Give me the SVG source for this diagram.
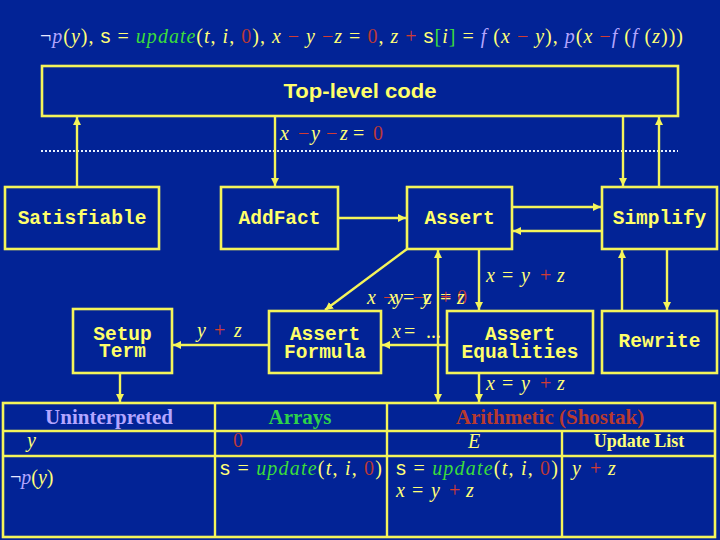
<svg xmlns="http://www.w3.org/2000/svg" width="720" height="540" viewBox="0 0 720 540">
<defs>
<style>
.box{fill:none;stroke:#f4f45a;stroke-width:2.6}
.ln{stroke:#f4f45a;stroke-width:2.4;fill:none}
.mono{font-family:"Liberation Mono","Courier New",monospace;font-weight:bold;font-size:19.5px;fill:#ffff6a;text-anchor:middle}
.m{font-family:"Liberation Serif","Times New Roman",serif;font-size:20px;fill:#ffff78}
.i{font-style:italic}
.r{fill:#d23c34}
.z0{fill:#b83838}
.g{fill:#3bdc3b}
.p{fill:#b3a6ff}
.w{fill:#e8e8ff}
.s{font-family:"Liberation Sans",Arial,sans-serif}
.hd{font-family:"Liberation Serif","Times New Roman",serif;font-weight:bold;font-size:21px;text-anchor:middle}
</style>
<marker id="ah" viewBox="0 0 10 10" refX="10" refY="5" markerWidth="8" markerHeight="8" markerUnits="userSpaceOnUse" orient="auto-start-reverse">
<path d="M0,0 L10,5 L0,10 z" fill="#f4f45a"/>
</marker>
</defs>
<rect width="720" height="540" fill="#022396"/>

<text class="m" x="40" y="43" textLength="643" lengthAdjust="spacing"><tspan class="w">¬</tspan><tspan class="p i">p</tspan>(<tspan class="i">y</tspan>), <tspan class="s">s</tspan> = <tspan class="g i">update</tspan>(<tspan class="i">t</tspan>, <tspan class="i">i</tspan>, <tspan class="z0">0</tspan>), <tspan class="i">x</tspan> <tspan class="r">−</tspan> <tspan class="i">y</tspan> <tspan class="r">−</tspan><tspan class="i">z</tspan> = <tspan class="z0">0</tspan>, <tspan class="i">z</tspan> <tspan class="r">+</tspan> <tspan class="s">s</tspan><tspan class="g">[</tspan><tspan class="i">i</tspan><tspan class="g">]</tspan> = <tspan class="p i">f</tspan> (<tspan class="i">x</tspan> <tspan class="r">−</tspan> <tspan class="i">y</tspan>), <tspan class="p i">p</tspan>(<tspan class="i">x</tspan> <tspan class="r">−</tspan><tspan class="p i">f</tspan> (<tspan class="p i">f</tspan> (<tspan class="i">z</tspan>)))</text>

<g id="top">
<rect class="box" x="42" y="66" width="636" height="50"/>
<text x="360" y="98" text-anchor="middle" font-family="Liberation Sans,Arial,sans-serif" font-weight="bold" font-size="20" fill="#ffff6a" textLength="153" lengthAdjust="spacingAndGlyphs">Top-level code</text>
</g>

<g id="sep">
<line x1="41" y1="151" x2="678" y2="151" stroke="#e6f0ff" stroke-width="2" stroke-dasharray="2,2"/>
<text class="m"><tspan class="i" x="280" y="140">x</tspan><tspan class="r" x="298">−</tspan><tspan class="i" x="311">y</tspan><tspan class="r" x="326">−</tspan><tspan class="i" x="340">z</tspan><tspan x="353">=</tspan><tspan class="z0" x="373">0</tspan></text>
</g>

<g id="connectors">
<line class="ln" x1="77" y1="187" x2="77" y2="117" marker-end="url(#ah)"/>
<line class="ln" x1="275" y1="116" x2="275" y2="186" marker-end="url(#ah)"/>
<line class="ln" x1="623" y1="116" x2="623" y2="186" marker-end="url(#ah)"/>
<line class="ln" x1="659" y1="187" x2="659" y2="117" marker-end="url(#ah)"/>
<line class="ln" x1="338" y1="218" x2="406" y2="218" marker-end="url(#ah)"/>
<line class="ln" x1="512" y1="207" x2="601" y2="207" marker-end="url(#ah)"/>
<line class="ln" x1="602" y1="231" x2="513" y2="231" marker-end="url(#ah)"/>
<line class="ln" x1="407" y1="249" x2="325" y2="310" marker-end="url(#ah)"/>
<line class="ln" x1="438" y1="402" x2="438" y2="250" marker-start="url(#ah)" marker-end="url(#ah)"/>
<line class="ln" x1="479" y1="249" x2="479" y2="310" marker-end="url(#ah)"/>
<line class="ln" x1="447" y1="345" x2="382" y2="345" marker-end="url(#ah)"/>
<line class="ln" x1="269" y1="345" x2="173" y2="345" marker-end="url(#ah)"/>
<line class="ln" x1="120" y1="373" x2="120" y2="402" marker-end="url(#ah)"/>
<line class="ln" x1="479" y1="373" x2="479" y2="402" marker-end="url(#ah)"/>
<line class="ln" x1="622" y1="311" x2="622" y2="250" marker-end="url(#ah)"/>
<line class="ln" x1="667" y1="249" x2="667" y2="310" marker-end="url(#ah)"/>
</g>

<g id="labels">
<text class="m"><tspan class="i" x="486" y="282">x</tspan><tspan x="502">=</tspan><tspan class="i" x="521">y</tspan><tspan class="r" x="540">+</tspan><tspan class="i" x="557">z</tspan></text>
<text class="m"><tspan class="i" x="367" y="304">x</tspan><tspan class="r" x="383">−</tspan><tspan class="i" x="394">y</tspan><tspan class="r" x="413">−</tspan><tspan class="i" x="424">z</tspan><tspan x="440">=</tspan><tspan class="z0" x="457">0</tspan></text>
<text class="m"><tspan class="i" x="388" y="304">x</tspan><tspan x="403">=</tspan><tspan class="i" x="422">y</tspan><tspan class="r" x="440">+</tspan><tspan class="i" x="457">z</tspan></text>
<text class="m"><tspan class="i" x="392" y="338">x</tspan><tspan x="404">=</tspan><tspan x="426">...</tspan></text>
<text class="m"><tspan class="i" x="197" y="337">y</tspan><tspan class="r" x="214">+</tspan><tspan class="i" x="234">z</tspan></text>
<text class="m"><tspan class="i" x="486" y="390">x</tspan><tspan x="502">=</tspan><tspan class="i" x="521">y</tspan><tspan class="r" x="540">+</tspan><tspan class="i" x="557">z</tspan></text>
</g>

<g id="satisfiable"><rect class="box" x="5" y="187" width="154" height="62"/><text class="mono" x="82" y="224">Satisfiable</text></g>
<g id="addfact"><rect class="box" x="221" y="187" width="117" height="62"/><text class="mono" x="279.5" y="224">AddFact</text></g>
<g id="assert"><rect class="box" x="407" y="187" width="105" height="62"/><text class="mono" x="459.5" y="224">Assert</text></g>
<g id="simplify"><rect class="box" x="602" y="187" width="115" height="62"/><text class="mono" x="659.5" y="224">Simplify</text></g>
<g id="setupterm"><rect class="box" x="73" y="309" width="99" height="64"/><text class="mono" x="122.5" y="340">Setup</text><text class="mono" x="122.5" y="357">Term</text></g>
<g id="assertformula"><rect class="box" x="269" y="311" width="112" height="62"/><text class="mono" x="325" y="340">Assert</text><text class="mono" x="325" y="358">Formula</text></g>
<g id="assertequalities"><rect class="box" x="447" y="311" width="146" height="62"/><text class="mono" x="520" y="340">Assert</text><text class="mono" x="520" y="358">Equalities</text></g>
<g id="rewrite"><rect class="box" x="602" y="311" width="115" height="62"/><text class="mono" x="659.5" y="347">Rewrite</text></g>

<g id="table">
<rect class="box" x="3" y="403" width="712" height="134"/>
<line class="ln" x1="3" y1="431" x2="715" y2="431"/>
<line class="ln" x1="3" y1="456" x2="715" y2="456"/>
<line class="ln" x1="215" y1="403" x2="215" y2="537"/>
<line class="ln" x1="387" y1="403" x2="387" y2="537"/>
<line class="ln" x1="562" y1="431" x2="562" y2="537"/>
<text class="hd" x="109" y="424" fill="#b3a6ff">Uninterpreted</text>
<text class="hd" x="300" y="424" fill="#2ed24a">Arrays</text>
<text class="hd" x="550" y="424" fill="#b83a2e">Arithmetic (Shostak)</text>
<text class="m i" x="27" y="447">y</text>
<text class="m z0" x="233" y="447">0</text>
<text class="m i" x="468" y="448">E</text>
<text x="639" y="447" text-anchor="middle" font-family="Liberation Serif,Times New Roman,serif" font-weight="bold" font-size="18" fill="#ffff78">Update List</text>
<text class="m" x="10" y="484"><tspan class="w">¬</tspan><tspan class="p i">p</tspan>(<tspan class="i">y</tspan>)</text>
<text class="m" x="220" y="475" textLength="162" lengthAdjust="spacing"><tspan class="s">s</tspan> = <tspan class="g i">update</tspan>(<tspan class="i">t</tspan>, <tspan class="i">i</tspan>, <tspan class="z0">0</tspan>)</text>
<text class="m" x="396" y="475" textLength="162" lengthAdjust="spacing"><tspan class="s">s</tspan> = <tspan class="g i">update</tspan>(<tspan class="i">t</tspan>, <tspan class="i">i</tspan>, <tspan class="z0">0</tspan>)</text>
<text class="m"><tspan class="i" x="396" y="497">x</tspan><tspan x="412">=</tspan><tspan class="i" x="431">y</tspan><tspan class="r" x="449">+</tspan><tspan class="i" x="466">z</tspan></text>
<text class="m"><tspan class="i" x="572" y="475">y</tspan><tspan class="r" x="590">+</tspan><tspan class="i" x="608">z</tspan></text>
</g>
</svg>
